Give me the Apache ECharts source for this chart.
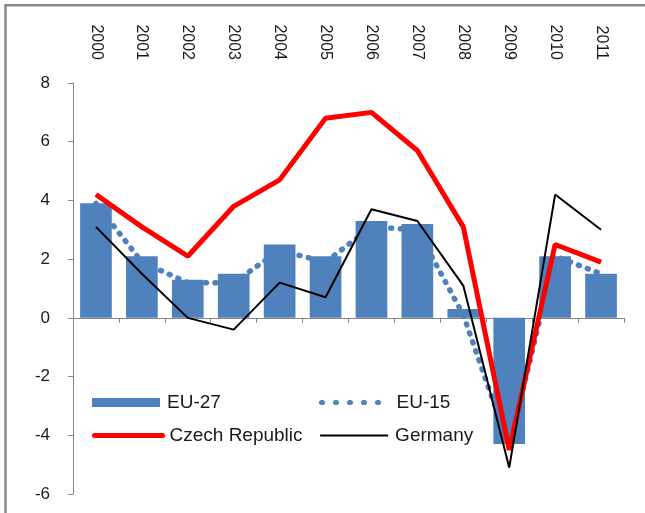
<!DOCTYPE html>
<html>
<head>
<meta charset="utf-8">
<script src="https://cdn.jsdelivr.net/npm/echarts@6/dist/echarts.min.js"></script>
<style>
  html, body { margin: 0; padding: 0; background: #fff; }
  #chart { width: 645px; height: 513px; }
</style>
</head>
<body>
<div id="chart"></div>
<script>
const years = ['2000', '2001', '2002', '2003', '2004', '2005', '2006', '2007', '2008', '2009', '2010', '2011'];
const eu27 = [3.9, 2.1, 1.3, 1.5, 2.5, 2.1, 3.3, 3.2, 0.3, -4.3, 2.1, 1.5];
const eu15 = [3.9, 1.9, 1.2, 1.2, 2.3, 1.9, 3.1, 3.0, 0.1, -4.4, 2.1, 1.5];
const czech = [4.2, 3.1, 2.1, 3.8, 4.7, 6.8, 7.0, 5.7, 3.1, -4.5, 2.5, 1.9];
const germany = [3.1, 1.5, 0.0, -0.4, 1.2, 0.7, 3.7, 3.3, 1.1, -5.1, 4.2, 3.0];

const textColor = '#1a1a1a';
const axisColor = '#868686';
const font = 'Liberation Sans, Arial, sans-serif';

const blue = '#4F81BD';
const dotted = { color: blue, width: 5.5, type: [1, 8.5], cap: 'round' };
const dottedKey = { color: blue, width: 5, type: [1, 13], cap: 'round' };
const redLine = { color: '#FF0000', width: 5, cap: 'round' };
const blackLine = { color: '#000000', width: 2.2 };

const chart = echarts.init(document.getElementById('chart'), null, { renderer: 'canvas' });

// one legend per entry so each keeps its own spot
const legendAt = (name, left, top, line) => ({
  data: [line ? name : { name: name, icon: 'rect' }],
  left: left,
  top: top,
  padding: 0,
  itemWidth: 68,
  itemHeight: 9,
  itemGap: 0,
  // hide the marker dot on line entries, keep the line itself
  itemStyle: line ? { opacity: 0 } : {},
  lineStyle: line || {},
  textStyle: { color: textColor, fontSize: 19, fontFamily: font, padding: [0, 0, 0, 2] }
});

const option = {
  animation: false,
  backgroundColor: '#fff',
  graphic: [{
    type: 'rect',
    shape: { x: 5.5, y: 5.3, width: 700, height: 600 },
    style: { fill: 'none', stroke: '#8a8a8a', lineWidth: 2.5 },
    silent: true
  }],
  grid: { left: 73, right: 21, top: 83, bottom: 19 },
  legend: [
    legendAt('EU-27', 92, 393, null),
    legendAt('EU-15', 319, 393, dottedKey),
    legendAt('Czech Republic', 92, 426, redLine),
    legendAt('Germany', 319, 426, blackLine)
  ],
  xAxis: [{
    type: 'category',
    data: years,
    position: 'bottom',
    axisLine: { onZero: true, lineStyle: { color: axisColor, width: 1 } },
    axisTick: { show: true, length: 5, lineStyle: { color: axisColor } },
    axisLabel: { show: false },
    splitLine: { show: false }
  }, {
    type: 'category',
    data: years,
    position: 'top',
    axisLine: { show: false, onZero: false },
    axisTick: { show: false },
    axisLabel: { rotate: 90, margin: 23, color: textColor, fontSize: 16, fontFamily: font, interval: 0 },
    splitLine: { show: false }
  }],
  yAxis: {
    type: 'value',
    min: -6,
    max: 8,
    interval: 2,
    axisLine: { show: true, lineStyle: { color: axisColor, width: 1 } },
    axisTick: { show: true, length: 5, lineStyle: { color: axisColor } },
    axisLabel: { margin: 23, color: textColor, fontSize: 17, fontFamily: font },
    splitLine: { show: false }
  },
  series: [{
    name: 'EU-27',
    type: 'bar',
    data: eu27,
    barCategoryGap: '31%',
    itemStyle: { color: blue }
  }, {
    name: 'EU-15',
    type: 'line',
    data: eu15,
    symbol: 'none',
    lineStyle: dotted,
    itemStyle: { color: blue }
  }, {
    name: 'Czech Republic',
    type: 'line',
    data: czech,
    symbol: 'none',
    lineStyle: { color: '#FF0000', width: 5 },
    itemStyle: { color: '#FF0000' }
  }, {
    name: 'Germany',
    type: 'line',
    data: germany,
    symbol: 'none',
    lineStyle: { color: '#000000', width: 2 },
    itemStyle: { color: '#000000' }
  }]
};

chart.setOption(option);
</script>
</body>
</html>
